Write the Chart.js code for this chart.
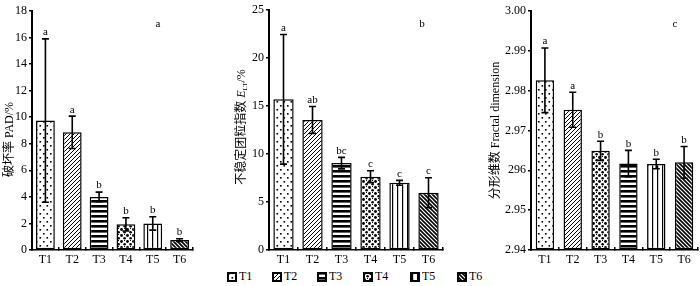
<!DOCTYPE html>
<html lang="zh">
<head>
<meta charset="UTF-8">
<title>团聚体稳定性指标</title>
<script src="https://cdn.jsdelivr.net/npm/chart.js@4.4.0/dist/chart.umd.min.js"></script>
<style>
    body {
        margin: 0;
        width: 700px;
        height: 286px;
        position: relative;
        overflow: hidden;
        background: #fff;
        font-family: 'Liberation Serif', 'Noto Sans CJK SC', serif;
    }
    .panel { position: absolute; top: 0; height: 265px; }
    .legend-item { position: absolute; top: 271px; height: 11px; font-size: 12px; line-height: 11px; color: #000; }
    .legend-item canvas { position: absolute; left: 0; top: 1px; }
    .legend-item span { position: absolute; left: 12px; top: 0; }
</style>
</head>
<body>
<div class="panel" style="left:0;width:200px"><canvas id="chartA"></canvas></div>
<div class="panel" style="left:230px;width:230px"><canvas id="chartB"></canvas></div>
<div class="panel" style="left:460px;width:240px"><canvas id="chartC"></canvas></div>
<div id="legend"></div>

<script>
    // 数据
    const categories = ['T1', 'T2', 'T3', 'T4', 'T5', 'T6'];

    const padValues = [9.75, 8.86, 4.0, 1.93, 2.0, 0.75];
    const padErr = [6.15, 1.22, 0.36, 0.5, 0.5, 0.1];
    const padLetters = ['a', 'a', 'b', 'b', 'b', 'b'];

    const eltValues = [15.7, 13.55, 9.05, 7.64, 7.0, 5.97];
    const eltErr = [6.75, 1.4, 0.6, 0.62, 0.25, 1.56];
    const eltLetters = ['a', 'ab', 'bc', 'c', 'c', 'c'];

    const fdValues = [2.9826, 2.9752, 2.9649, 2.9617, 2.9616, 2.9620];
    const fdErr = [0.0081, 0.0044, 0.0024, 0.0033, 0.0012, 0.0040];
    const fdLetters = ['a', 'a', 'b', 'b', 'b', 'b'];
    const fdTickLabels = ['2.94', '2.95', '296', '2.97', '2.98', '2.99', '3.00'];

    const patternsAB = ['dots', 'slash', 'hstripe', 'blob', 'vstripe', 'backslash'];
    const patternsC = ['dots', 'slash', 'blob', 'hstripe', 'vstripe', 'backslash'];

    const FONT = "'Liberation Serif', 'Noto Sans CJK SC', serif";
    Chart.defaults.font.family = FONT;
    Chart.defaults.font.size = 12;
    Chart.defaults.color = '#000';

    // 填充图案
    function makePattern(kind) {
        const c = document.createElement('canvas');
        const g = c.getContext('2d');
        let w = 6, h = 6;
        if (kind === 'dots') { w = 7; h = 8; }
        if (kind === 'slash' || kind === 'backslash') { w = 4; h = 4; }
        if (kind === 'hstripe') { w = 2; h = 5; }
        if (kind === 'vstripe') { w = 5; h = 2; }
        c.width = w; c.height = h;
        g.fillStyle = '#fff';
        g.fillRect(0, 0, w, h);
        g.fillStyle = '#000';
        g.strokeStyle = '#000';
        if (kind === 'dots') {
            g.fillRect(1, 1, 1.6, 1.6);
            g.fillRect(4.5, 5, 1.6, 1.6);
        } else if (kind === 'slash') {
            g.lineWidth = 1;
            g.beginPath();
            g.moveTo(-1, 5); g.lineTo(5, -1);
            g.moveTo(-1, 1); g.lineTo(1, -1);
            g.moveTo(3, 5); g.lineTo(5, 3);
            g.stroke();
        } else if (kind === 'backslash') {
            g.lineWidth = 1.6;
            g.beginPath();
            g.moveTo(-1, -1); g.lineTo(5, 5);
            g.moveTo(3, -1); g.lineTo(5, 1);
            g.moveTo(-1, 3); g.lineTo(1, 5);
            g.stroke();
        } else if (kind === 'hstripe') {
            g.fillRect(0, 0, w, 2.6);
        } else if (kind === 'vstripe') {
            g.fillRect(2, 0, 1.2, h);
        } else if (kind === 'blob') {
            g.beginPath(); g.arc(1.5, 1.5, 1.4, 0, Math.PI * 2); g.fill();
            g.beginPath(); g.arc(4.6, 4.3, 1.3, 0, Math.PI * 2); g.fill();
            g.fillRect(4, 0, 1, 1);
        }
        return g.createPattern(c, 'repeat');
    }

    // 误差线、显著性字母、子图编号与纵轴标题
    function makeDecor(cfg) {
        return {
            id: 'decor',
            afterDatasetsDraw(chart) {
                const ctx = chart.ctx;
                const meta = chart.getDatasetMeta(0);
                const y = chart.scales.y;
                ctx.save();
                ctx.strokeStyle = '#000';
                ctx.fillStyle = '#000';
                ctx.lineWidth = 1.6;
                meta.data.forEach((bar, i) => {
                    const top = y.getPixelForValue(cfg.values[i] + cfg.err[i]);
                    const bot = y.getPixelForValue(cfg.values[i] - cfg.err[i]);
                    const x = bar.x;
                    ctx.beginPath();
                    ctx.moveTo(x, top); ctx.lineTo(x, bot);
                    ctx.moveTo(x - 3.5, top); ctx.lineTo(x + 3.5, top);
                    ctx.moveTo(x - 3.5, bot); ctx.lineTo(x + 3.5, bot);
                    ctx.stroke();
                    ctx.font = '11px ' + FONT;
                    ctx.textAlign = 'center';
                    ctx.textBaseline = 'bottom';
                    ctx.fillText(cfg.letters[i], x, top - 1);
                });
                ctx.font = '11px ' + FONT;
                ctx.textAlign = 'center';
                ctx.textBaseline = 'middle';
                ctx.fillText(cfg.tag, cfg.tagX, 24);

                // 纵轴标题
                const area = chart.chartArea;
                const parts = cfg.titleParts;
                const widths = parts.map(p => { ctx.font = p.font; return ctx.measureText(p.text).width; });
                const total = widths.reduce((a, b) => a + b, 0);
                ctx.translate(cfg.titleX, (area.top + area.bottom) / 2 + cfg.titleDy);
                ctx.rotate(-Math.PI / 2);
                ctx.textAlign = 'left';
                ctx.textBaseline = 'middle';
                let cx = -total / 2;
                parts.forEach((p, i) => {
                    ctx.font = p.font;
                    ctx.fillText(p.text, cx, p.shift || 0);
                    cx += widths[i];
                });
                ctx.restore();
            }
        };
    }

    function makePanel(id, cfg) {
        new Chart(document.getElementById(id), {
            type: 'bar',
            data: {
                labels: categories,
                datasets: [{
                    data: cfg.values,
                    base: cfg.min,
                    backgroundColor: cfg.patterns.map(makePattern),
                    borderColor: '#000',
                    borderWidth: 1.5,
                    borderSkipped: false,
                    barPercentage: cfg.barPct,
                    categoryPercentage: 1
                }]
            },
            options: {
                responsive: true,
                maintainAspectRatio: false,
                animation: false,
                layout: { padding: { left: 0, right: cfg.padRight, top: cfg.padTop, bottom: 0 } },
                plugins: {
                    legend: { display: false },
                    tooltip: { enabled: false }
                },
                scales: {
                    x: {
                        afterFit: s => { s.height = 15; },
                        grid: { display: true, drawOnChartArea: false, tickLength: -3, color: '#000', lineWidth: 1.5 },
                        border: { color: '#000', width: 1.5 },
                        ticks: { padding: 6, font: { size: 12 } }
                    },
                    y: {
                        min: cfg.min,
                        max: cfg.max,
                        afterFit: s => { s.width = cfg.axisLeft; },
                        afterBuildTicks: s => {
                            s.ticks = [];
                            for (let v = cfg.min; v <= cfg.max + cfg.step / 2; v += cfg.step) s.ticks.push({ value: +v.toFixed(4) });
                        },
                        grid: { drawOnChartArea: false, tickLength: 3, color: '#000', lineWidth: 1.5 },
                        border: { color: '#000', width: 2 },
                        ticks: {
                            padding: 2,
                            font: { size: 12 },
                            callback: cfg.tickCb
                        }
                    }
                }
            },
            plugins: [makeDecor(cfg)]
        });
    }

    makePanel('chartA', {
        values: padValues, err: padErr, letters: padLetters, patterns: patternsAB,
        min: 0, max: 18, step: 2, barPct: 0.7,
        axisLeft: 32, padRight: 7, padTop: 11,
        tag: 'a', tagX: 158,
        titleX: 10, titleDy: 9,
        titleParts: [{ text: '破坏率 PAD/%', font: '12px ' + FONT }],
        tickCb: v => String(v)
    });

    makePanel('chartB', {
        values: eltValues, err: eltErr, letters: eltLetters, patterns: patternsAB,
        min: 0, max: 25, step: 5, barPct: 0.7,
        axisLeft: 39, padRight: 17, padTop: 10,
        tag: 'b', tagX: 192,
        titleX: 12, titleDy: -3,
        titleParts: [
            { text: '不稳定团粒指数 ', font: '12px ' + FONT },
            { text: 'E', font: 'italic 12px ' + FONT },
            { text: 'LT', font: '7px ' + FONT, shift: 3 },
            { text: '/%', font: '12px ' + FONT }
        ],
        tickCb: v => String(v)
    });

    makePanel('chartC', {
        values: fdValues, err: fdErr, letters: fdLetters, patterns: patternsC,
        min: 2.94, max: 3.0, step: 0.01, barPct: 0.66,
        axisLeft: 71, padRight: 2, padTop: 11,
        tag: 'c', tagX: 215,
        titleX: 36, titleDy: 0,
        titleParts: [{ text: '分形维数 Fractal dimension', font: '12px ' + FONT }],
        tickCb: (v, i) => fdTickLabels[i]
    });

    // 图例
    const legendX = [227, 272, 317, 363, 410, 457];
    const legend = document.getElementById('legend');
    categories.forEach((name, i) => {
        const item = document.createElement('div');
        item.className = 'legend-item';
        item.style.left = legendX[i] + 'px';
        const c = document.createElement('canvas');
        c.width = 10; c.height = 10;
        const g = c.getContext('2d');
        g.fillStyle = makePattern(patternsAB[i]);
        g.fillRect(0, 0, 10, 10);
        g.strokeStyle = '#000';
        g.lineWidth = 2;
        g.strokeRect(1, 1, 8, 8);
        const s = document.createElement('span');
        s.textContent = name;
        item.appendChild(c);
        item.appendChild(s);
        legend.appendChild(item);
    });
</script>
</body>
</html>
